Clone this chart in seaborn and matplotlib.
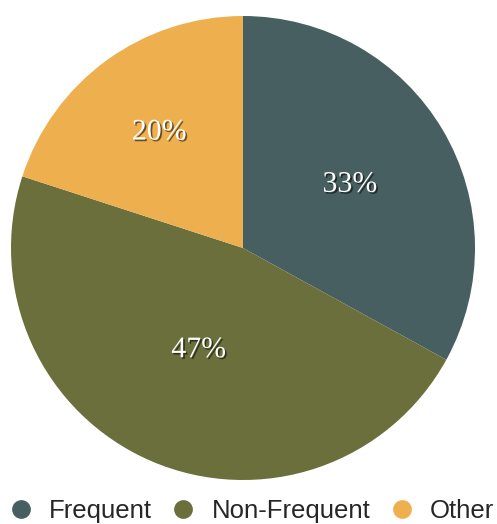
import numpy as np
import matplotlib
matplotlib.use("Agg")
import matplotlib.pyplot as plt
import matplotlib.patheffects as pe
from matplotlib.lines import Line2D
import seaborn as sns

sns.set_theme(style="white")

categories = ["Frequent", "Non-Frequent", "Other"]
shares = [33, 47, 20]
colors = ["#475f60", "#6b6f3b", "#eeb04f"]
label_radius = [0.535, 0.48, 0.615]

fig = plt.figure(figsize=(4.97, 5.24), dpi=100)
ax = fig.add_axes([11 / 497, 44 / 524, 464 / 497, 464 / 524])

wedges, texts, autotexts = ax.pie(
    shares,
    colors=colors,
    startangle=90,
    counterclock=False,
    autopct="%d%%",
    pctdistance=0.55,
    wedgeprops=dict(linewidth=0),
    textprops=dict(color="white", fontsize=21.5, family="Liberation Serif"),
)
ax.set_xlim(-1, 1)
ax.set_ylim(-1, 1)
ax.set_aspect("equal")

shadow = [pe.SimplePatchShadow(offset=(1.2, -1.2), shadow_rgbFace="black", alpha=0.55),
          pe.Normal()]
for w, t, r in zip(wedges, autotexts, label_radius):
    mid = np.deg2rad((w.theta1 + w.theta2) / 2)
    t.set_position((r * np.cos(mid), r * np.sin(mid)))
    t.set_path_effects(shadow)

handles = [Line2D([], [], marker="o", linestyle="none", markersize=13.5,
                  markerfacecolor=c, markeredgewidth=0) for c in colors]
fig.legend(handles, categories, loc="center", bbox_to_anchor=(0.505, 0.024),
           ncol=3, frameon=False, handlelength=1.0, handletextpad=0.6,
           columnspacing=0.72, borderaxespad=0, borderpad=0,
           prop=dict(family="Liberation Sans", size=18.5))

fig.savefig("out.png", dpi=100)
